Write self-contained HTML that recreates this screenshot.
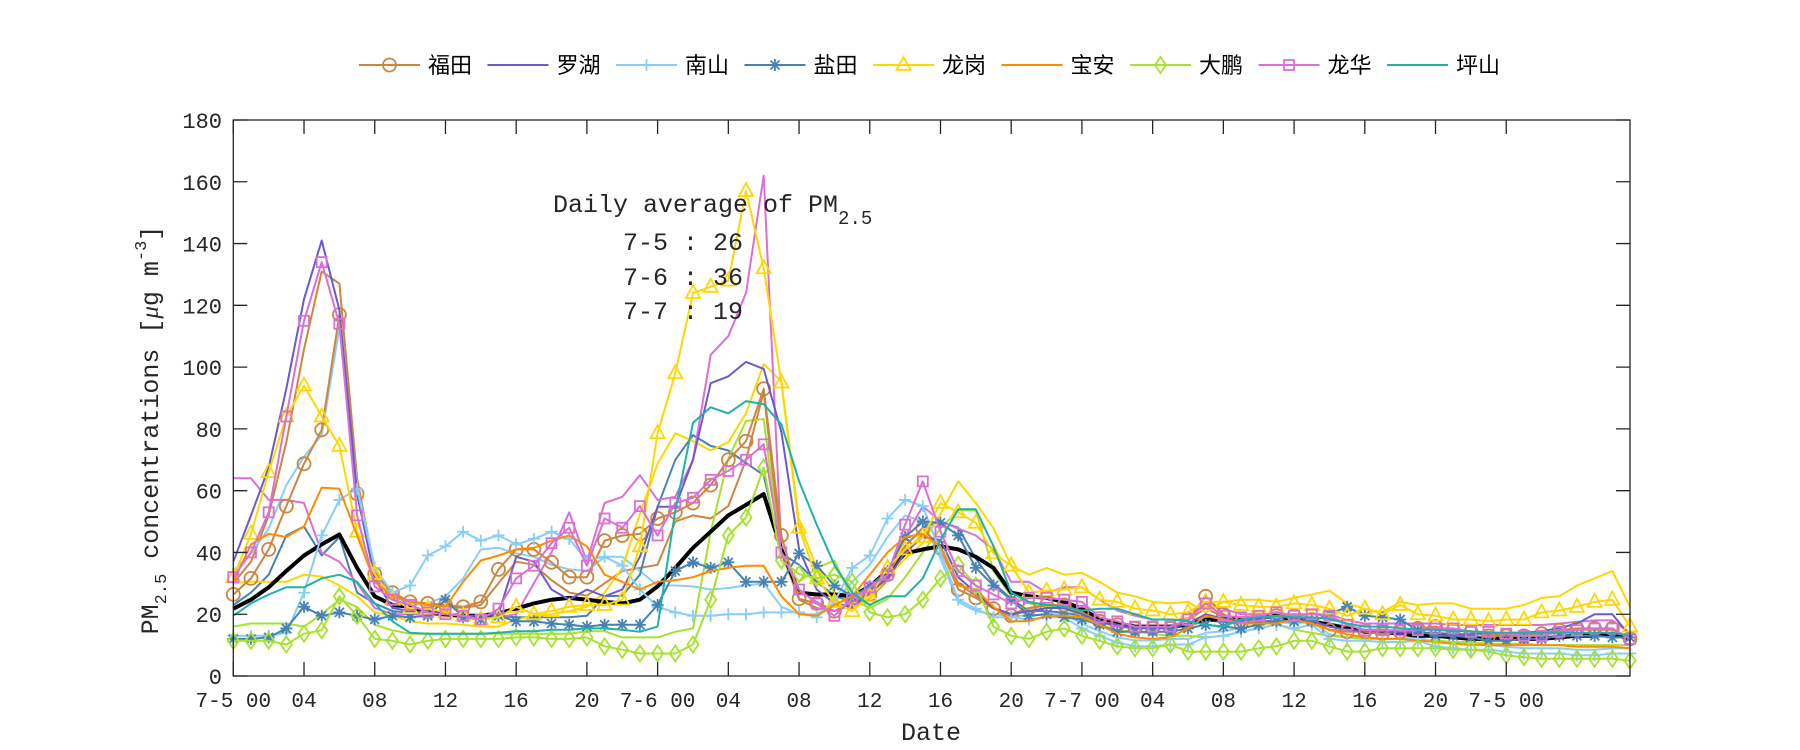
<!DOCTYPE html>
<html><head><meta charset="utf-8"><style>
html,body{margin:0;padding:0;background:#fff;}
svg{display:block;}
text{font-family:"Liberation Mono","DejaVu Sans Mono",monospace;fill:#262626;}
.cjk{font-family:"Liberation Sans","Noto Sans CJK SC",sans-serif;fill:#000;}
</style></head><body>
<svg id="chart" width="1800" height="750" viewBox="0 0 1800 750" xmlns="http://www.w3.org/2000/svg">
<rect x="0" y="0" width="1800" height="750" fill="#fff"/>
<g id="plot"></g>
<g id="axes"></g>
<g id="legend"></g>
<text x="931" y="740" font-size="25" text-anchor="middle">Date</text>
<text transform="translate(158,430) rotate(-90)" font-size="25" text-anchor="middle">PM<tspan font-size="17" dy="8">2.5</tspan><tspan dy="-8"> concentrations [</tspan><tspan font-family="Liberation Serif, serif" font-style="italic">μ</tspan><tspan>g m</tspan><tspan font-size="17" dy="-12">-3</tspan><tspan dy="12">]</tspan></text>
<g>
<text x="553" y="212" font-size="25">Daily average of PM<tspan font-size="19" dy="12">2.5</tspan></text>
<text x="623" y="250" font-size="25">7-5 : 26</text>
<text x="623" y="285" font-size="25">7-6 : 36</text>
<text x="623" y="319" font-size="25">7-7 : 19</text>
</g>
</svg>
<script>
const hours = Array.from({length:80},(_,i)=>i);
const yTicks = [0,20,40,60,80,100,120,140,160,180];
const xTickHours = [0,4,8,12,16,20,24,28,32,36,40,44,48,52,56,60,64,68,72];
const xTickLabels = ["7-5 00","04","08","12","16","20","7-6 00","04","08","12","16","20","7-7 00","04","08","12","16","20","7-5 00"];
const stationNames = ["福田","罗湖","南山","盐田","龙岗","宝安","大鹏","龙华","坪山"];

const futian = [26.4,31.6,41,55,68.7,79.7,117,59,33,27,24,23.5,23,22.4,24,34.5,41,41,36.8,32,32,
43.8,45.5,46,51,53,56,61.8,70,76,93,45.5,25,23.5,21,24,26.4,32.8,42,47.8,
41.5,28,25.3,21.8,19.5,21.8,23,23,20.6,17.7,16.6,15.4,15.4,15.4,18.3,25.8,20,17,19,19.5,
19.5,18.3,14.8,14.3,14.3,13.7,14.3,15.4,16,14.8,14.3,13,13,13,13.7,14.8,15.4,15.4,15.4,12];
const luohu = [37,52,67.5,93,122,141,118.5,59,31.6,22,21,20.5,20,19.5,19.5,20,38.6,37,28,24.7,28,
25.8,28,38.6,54.8,54.8,70,94.8,97,101.7,99.4,79,41,28,23.5,22.4,27,31.6,40,45,
44,32,27,22,20,21,22,22,20,17.5,16.5,15.5,15.5,15.5,17,20,18.5,18,18.5,19,
19,18,16,15,14.5,14.5,14,14,14,13.5,13.5,14,14,14,14.5,15.5,17,20,20,13];
const nanshan = [13,13,13,14,27,45.5,57,60.6,35,27,29.3,39,42,46.7,43.8,45.5,42.6,44.4,46.7,44.4,37.4,
38.6,35.7,28,22.4,20.6,19.5,19.5,20,20,20.6,20.6,20.6,19,24,35,39,51,57,55,
40,24.7,21.8,19,19,18.3,19,19,15.4,13,10.8,9.6,9.6,10.2,10.2,12.5,13,14.3,15.4,16.6,
15.4,16.6,12,11.4,11.4,11,11,11.4,9.6,9,8.5,8.5,7.9,7.3,7.3,7.3,6.7,6.7,7.3,7.3];
const yantian = [12,12,12.5,15.4,22.4,19.5,20.6,19.5,18.3,19.5,19,19.5,24.7,19,18.3,19.5,17.7,17.7,17,16.6,16,
16.6,16.6,16.6,23,34,36.8,35,36.8,30.5,30.5,30.5,39.7,35.7,29.3,25.8,29,34,45,50,
49.6,45.5,35,29.3,24.7,19.5,20,19,18.3,16.6,14.3,14.3,14.3,14.3,15.4,16.6,16,15.4,16.6,17.7,
17.7,17.7,20,22.4,19.5,19,18.3,14.8,13,13,12.5,11.4,11.4,12,12,13,13,13,12.5,12.5];
const longgang = [32,46,66,84,94,84,74.5,46.7,33,24.7,22,21.8,20.6,19.5,18.3,19,22.4,20,21,22.4,23,
23,24.7,42,78.6,98,124,126,128,157,132,95,48,31.6,24,21,25.8,35,41,45,
56,53,49.6,39.7,35.7,27,27.6,28,28.7,24.7,24,21.8,21.2,20,20.6,24,24,23,22.4,22.4,
23.5,23,21.8,19.5,21.8,20,23,20,19.5,18.3,18.3,17.7,18.3,18.3,20.6,21.2,22.4,24,24.7,16];
const baoan = [30.5,42.6,46,45,48.4,61,60.6,45.5,30.5,25.8,24,23,22.4,30.5,37.4,39,41,41.5,43.8,45.5,42,
32.8,30.5,28,30.5,31,32,34,35,35.7,35.7,25.8,20,19.5,23,25.8,32.8,40,45,46,
42,29.3,28,22.4,17.7,17.7,19.5,19.5,19,16.6,13.7,12.5,12,12.5,15.4,19.5,18.3,17,17,17,
18.3,17,15,13.5,12.5,12,12,11.5,11,10.5,10.2,10,10,10,10,10,9.5,9.5,9.5,9];
const dapeng = [11.4,11.4,11.4,10.2,13.7,14.8,25.8,19.5,12,11.4,10.2,11.4,12,12,12,12,12.5,12.5,12,12,12.5,
9.6,8.5,7.3,7.3,7.3,10.2,24.7,45.5,51.3,67.5,37.4,33,31.6,32.8,30.5,20.6,19,20,24.7,
31.6,36,29.3,16,13,12,14.3,15.4,13,11.4,9.6,9,9,10.2,7.9,7.9,7.9,7.9,9,9.6,
11.4,11.4,9.6,7.9,7.9,9,9,9,9,8.5,8.5,7.9,6.7,6.1,5.6,5.6,5.6,5.6,5.6,5];
const longhua = [32,40,53,84,115,134,114,52,29,24.7,23,20.6,20,19.5,18.3,21.8,31.6,35.7,43,48,35.7,
51,48,55,45.5,56,57.7,63.5,66.4,70,75,40,28,23.5,19.5,25,28.7,32.8,49,63,
46.7,34,29.3,26.4,23.5,25.3,25.3,24.7,24,19,17.7,16,16,16,18.3,23.5,19.5,19,19.5,20.6,
19.5,20,19.5,16.6,14.8,14.8,14.8,14.8,15.4,15.4,14.3,14.3,13.7,13,13,14.3,14.8,15.4,15.4,12];
const pingshan = [19.5,23.5,26.4,28.7,28.7,31.6,32.8,30.5,23.5,17.7,14,13.7,13.7,13.7,13.7,14,14.5,14.5,15,15,15.4,
15.4,15,14.3,16,53.6,82,87,85,89,88,81.5,63,49,36,27,23,25.8,25.8,31.6,
44,54,54,42,27,24,23,22.4,21.2,21.8,21.8,20,18.3,18.3,17.7,16.6,16,18.3,19,19.5,
19,19,18.5,17,16,16,15.5,15,15,14.5,14.5,14,14,14,14,14,14,14,14,13];
const futianB = [30,37,52,75.7,105.8,131,127,64,34,27,24,23,22.5,22,23,30,37,36,31,27,26,
30,34,35,36,50,52,51,55,70,92,40,24.7,22,21,23,25,31,40,46,
42,30,26,22,20,22,23,23,21,18,17,16,16,16,18,22,19,17,19,19.5,
19,18,15,14.5,14.5,14,14.5,15,15.5,15,14.5,13.5,13.5,13.5,14,14.5,15,15,15,12.5];
const nanshanB = [34,39.7,47.8,61.8,71,78,112.7,61.8,35,25.8,23.5,23.5,25.8,31.6,41,41.5,39.7,38.6,36,34.5,34,
38.6,38.6,34,29.3,29.3,29,28,28.5,29.3,30,22.4,20,20,23.5,30.5,36,45,52,50,
38,24,21,20,19.5,19.5,20,20,17,14.5,12.5,11.5,11.5,12,12,14,14.5,15.5,16.5,17.5,
17,17.5,13.5,12.5,12.5,12,12,12.5,11,10.5,10,10,9.5,9,9,9,8.5,8.5,9,9];
const yantianB = [23,27,32.8,45.5,48.4,39,45,27,23.5,21,20.5,20,20,19.5,19.5,19.5,19,19,19,19,19.5,
25.8,26,32.8,54.8,70,78,74.5,73,69,65,39.7,36,30.5,26,24,27,33,42,48,
50,48,38,30,25,21,21,20.5,19.5,17.5,16,15.5,15.5,15.5,16.5,18,17.5,17,17.5,18,
18,17.5,17,16,15,15,14.5,14,13.5,13,13,12.5,12.5,12.5,12.5,13,13.5,13.5,14,13];
const longgangB = [30,30.5,30.5,30.5,32.8,32.2,29.3,25.8,20.6,19.5,17.7,17,17,16.6,16,16,18.3,19.5,20,21,22.4,
27,35,52.5,68.7,78.6,76,73,75.7,85,101,95.4,49.6,35,27,24,25,32,38,43,
52.5,63,56,47.8,35.7,32.8,35,32.8,33.4,30.5,27,25.8,24,23.5,24,20.6,24,24.7,24.7,24,
25.3,26.4,27.6,23.5,21.8,20.6,24,23,23.5,23.5,21.8,21.8,21.8,23,25.3,25.8,29.3,31.6,34,22.4];
const dapengB = [16,17,17,17,16,20,24.7,22.4,16.6,14.8,13.7,13.7,13.7,13.7,13.7,13.7,13.7,13.7,13.7,13.7,14.5,
14.5,12.5,12.5,12.5,14.3,15.4,46.7,70.4,82.6,83.2,37.4,30.5,35,37.4,24.7,22,25,32,40,
47.8,53.6,53.6,34,25.8,23.5,22.4,21.8,19.5,16.6,14.8,14.3,13.7,13,13,12.5,13,14.3,15.4,16.6,
15,14,13,12.5,12,12,12,11.5,11.5,11,11,10.5,10.5,10.5,10,10,10,10,10,10];
const longhuaB = [64,64,57,57,56,40,37,30,22,20,20,20,19.5,19,18.5,19,20,30,40,53,37,
56,58,65,57,58,70,104,110,124,162,41,28,24,21,24,28,32,45,55,
50,47.8,45.5,41,30.5,30.5,27,28.7,28.7,24.7,21.2,19.5,18.3,18.3,18.3,24,21.8,20,20,20,
20,20,20,18,17,17,17,17,17,16.5,16.5,16.5,16.5,16.5,16.5,17,17.5,18,18,14];
const average = [21.8,24.7,28.7,34,39,42.6,45.8,35,25.8,23,22.4,20.6,20,19.5,19.5,20.3,21.8,23.5,24.7,25.3,24.7,
24,23.5,24.7,29,35,41.5,46.7,52,55.4,58.9,41,27,26.4,26.4,25.8,29,34,39.7,41,
42,41,38.6,35,27,25.8,25.3,24,21.8,18.3,17,16,16,16,16.6,18.3,18.3,18.3,19,19.5,
18.3,17.7,16.6,15.4,14.3,14.3,13.7,13,13,12.5,12,12,12,12,12,12.5,13,13,13.7,12];

const NS="http://www.w3.org/2000/svg";
const X0=233.3,X1=1630,YT=120,YB=676,HMAX=79,VMAX=180;
function xs(h){return X0+h*(X1-X0)/HMAX;}
function ys(v){return YB-v*(YB-YT)/VMAX;}
function mk(tag,attrs,parent){const e=document.createElementNS(NS,tag);for(const k in attrs)e.setAttribute(k,attrs[k]);parent.appendChild(e);return e;}

const C={brown:"#CD853F",purple:"#6A5ACD",lblue:"#87CEFA",sblue:"#4682B4",gold:"#FFD700",orange:"#FF8C00",green:"#A6E22E",pink:"#DA70D6",teal:"#20B2AA"};

function marker(g,type,x,y,col){
  const a={fill:"none",stroke:col,"stroke-width":"1.8"};
  let e;
  if(type==="o"){e=mk("circle",Object.assign({cx:x,cy:y,r:6.5},a),g);}
  else if(type==="+"){e=mk("path",Object.assign({d:`M${x-6} ${y}H${x+6}M${x} ${y-6}V${y+6}`},a),g);}
  else if(type==="*"){e=mk("path",Object.assign({d:`M${x-6} ${y}H${x+6}M${x} ${y-6}V${y+6}M${x-4.5} ${y-4.5}L${x+4.5} ${y+4.5}M${x-4.5} ${y+4.5}L${x+4.5} ${y-4.5}`},a),g);}
  else if(type==="^"){e=mk("path",Object.assign({d:`M${x} ${y-8}L${x+7} ${y+5}L${x-7} ${y+5}Z`},a),g);}
  else if(type==="d"){e=mk("path",Object.assign({d:`M${x} ${y-8}L${x+5.5} ${y}L${x} ${y+8}L${x-5.5} ${y}Z`},a),g);}
  else if(type==="s"){e=mk("rect",Object.assign({x:x-5,y:y-5,width:10,height:10},a),g);}
  if(e){
    
    
  }
}

const plot=document.getElementById("plot");
function drawSeries(name,data,col,width,mtype){
  const g=mk("g",{},plot);
  
  
  const pts=data.map((v,i)=>xs(hours[i]).toFixed(1)+","+ys(v).toFixed(1)).join(" ");
  const pl=mk("polyline",{points:pts,fill:"none",stroke:col,"stroke-width":width,"stroke-linejoin":"round"},g);
  
  
  if(mtype){data.forEach((v,i)=>marker(g,mtype,xs(hours[i]),ys(v),col));}
}
drawSeries("series-futian-2",futianB,C.brown,2,null);
drawSeries("series-nanshan-2",nanshanB,C.lblue,2,null);
drawSeries("series-yantian-2",yantianB,C.sblue,2,null);
drawSeries("series-longgang-2",longgangB,C.gold,2,null);
drawSeries("series-dapeng-2",dapengB,C.green,2,null);
drawSeries("series-longhua-2",longhuaB,C.pink,2,null);
drawSeries("series-average",average,"#000",4,null);
drawSeries("series-futian",futian,C.brown,2,"o");
drawSeries("series-luohu",luohu,C.purple,2,null);
drawSeries("series-nanshan",nanshan,C.lblue,2,"+");
drawSeries("series-yantian",yantian,C.sblue,2,"*");
drawSeries("series-longgang",longgang,C.gold,2,"^");
drawSeries("series-baoan",baoan,C.orange,2,null);
drawSeries("series-dapeng",dapeng,C.green,2,"d");
drawSeries("series-longhua",longhua,C.pink,2,"s");
drawSeries("series-pingshan",pingshan,C.teal,2,null);

const axes=document.getElementById("axes");
const box=mk("rect",{x:X0,y:YT,width:X1-X0,height:YB-YT,fill:"none",stroke:"#262626","stroke-width":"1.3"},axes);


yTicks.forEach(v=>{
  const y=ys(v);
  const t=mk("path",{d:`M${X0} ${y}h14M${X1} ${y}h-14`,stroke:"#262626","stroke-width":"1.3"},axes);
  
  
  const l=mk("text",{x:222,y:y+8,"font-size":"22","text-anchor":"end"},axes);
  
  
  l.textContent=String(v);
});
xTickHours.forEach((h,i)=>{
  const x=xs(h);
  const t=mk("path",{d:`M${x} ${YB}v-14M${x} ${YT}v14`,stroke:"#262626","stroke-width":"1.3"},axes);
  
  
  const l=mk("text",{x:x,y:707,"font-size":"21","text-anchor":"middle"},axes);
  
  
  l.textContent=xTickLabels[i];
});

const legend=document.getElementById("legend");
const legCols=[C.brown,C.purple,C.lblue,C.sblue,C.gold,C.orange,C.green,C.pink,C.teal];
const legMarks=["o",null,"+","*","^",null,"d","s",null];
stationNames.forEach((n,i)=>{
  const lx=359+i*128.5, ly=65;
  const g=mk("g",{},legend);
  
  
  mk("line",{x1:lx,y1:ly,x2:lx+61,y2:ly,stroke:legCols[i],"stroke-width":"2"},g);
  if(legMarks[i])marker(g,legMarks[i],lx+30.5,ly,legCols[i]);
  const t=mk("text",{x:lx+69,y:ly+8,"font-size":"22",class:"cjk"},g);
  
  
  t.textContent=n;
});
</script>
</body></html>
